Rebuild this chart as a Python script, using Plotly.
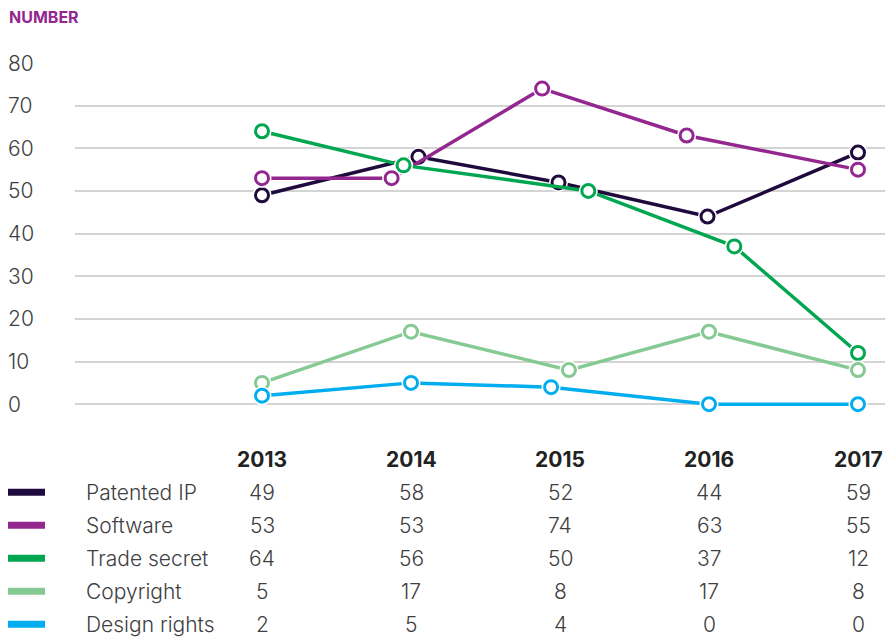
import plotly.graph_objects as go

years = [2013, 2014, 2015, 2016, 2017]
series_names = ["Patented IP", "Software", "Trade secret", "Copyright", "Design rights"]
patented_ip = [49, 58, 52, 44, 59]
software = [53, 53, 74, 63, 55]
trade_secret = [64, 56, 50, 37, 12]
copyright_ = [5, 17, 8, 17, 8]
design_rights = [2, 5, 4, 0, 0]
y_ticks = [0, 10, 20, 30, 40, 50, 60, 70, 80]

values = [patented_ip, software, trade_secret, copyright_, design_rights]
colors = ["#1f0a3d", "#93278f", "#00a650", "#86ca93", "#00aeef"]
# small horizontal dodge (in years) so overlapping markers stay visible
dodge = [
    [0, 0.05, -0.01, -0.01, 0],
    [0, -0.13, -0.12, -0.15, 0],
    [0, -0.05, 0.19, 0.17, 0],
    [0, 0, 0.06, 0, 0],
    [0, 0, -0.06, 0, 0],
]

W, H = 885, 637
Y0, Y1 = -3, 80
PXU = (404 - 63) / 80.0  # pixels per unit
ML, MR, MT = 75, 0, 63
PH = (Y1 - Y0) * PXU
MB = H - MT - PH
PW = W - ML - MR

def py(p):  # pixel y -> paper y
    return (H - MB - p) / PH

def px(p):  # pixel x -> paper x
    return (p - ML) / PW

FONT = "Inter"
TXT = "#404040"

fig = go.Figure()
for name, vals, col, dd in zip(series_names, values, colors, dodge):
    xs = [y + d for y, d in zip(years, dd)]
    fig.add_trace(go.Scatter(x=xs, y=vals, mode="lines", line=dict(color=col, width=3.5),
                             hoverinfo="skip", showlegend=False, cliponaxis=False))
    fig.add_trace(go.Scatter(x=xs, y=vals, mode="markers",
                             marker=dict(size=19, color="white", line=dict(width=0)),
                             hoverinfo="skip", showlegend=False, cliponaxis=False))
    fig.add_trace(go.Scatter(x=xs, y=vals, mode="markers", name=name,
                             marker=dict(size=13, color="white", line=dict(color=col, width=3)),
                             showlegend=False, cliponaxis=False))

fig.update_xaxes(range=[2013 - (262 - ML) / 149, 2013 + (W - 262) / 149],
                 showgrid=False, zeroline=False, showticklabels=False, fixedrange=True)
fig.update_yaxes(range=[Y0, Y1], tickvals=y_ticks, showticklabels=False,
                 gridcolor="#d4d4d4", gridwidth=2, zeroline=False, fixedrange=True)

ann = []
ann.append(dict(text="<b>NUMBER</b>", xref="paper", yref="paper", x=px(7), y=py(17),
                xanchor="left", yanchor="middle", showarrow=False,
                font=dict(family=FONT, size=16, color="#93278f", weight=800)))
for t in y_ticks:
    ann.append(dict(text=str(t), xref="paper", yref="y", x=px(6), y=t,
                    xanchor="left", yanchor="middle", showarrow=False,
                    font=dict(family=FONT, size=21, color=TXT, weight=300)))
for yr in years:
    ann.append(dict(text="<b>%d</b>" % yr, xref="x", yref="paper", x=yr, y=py(459),
                    xanchor="center", yanchor="middle", showarrow=False,
                    font=dict(family=FONT, size=21, color="#222222")))
shapes = []
row_y = [492, 525, 558, 591, 624]
for i, (name, vals, col) in enumerate(zip(series_names, values, colors)):
    ry = row_y[i]
    shapes.append(dict(type="line", xref="paper", yref="paper", x0=px(8), x1=px(45),
                       y0=py(ry), y1=py(ry), line=dict(color=col, width=7)))
    ann.append(dict(text=name, xref="paper", yref="paper", x=px(84), y=py(ry),
                    xanchor="left", yanchor="middle", showarrow=False,
                    font=dict(family=FONT, size=21, color=TXT, weight=300)))
    for yr, v in zip(years, vals):
        ann.append(dict(text=str(v), xref="x", yref="paper", x=yr, y=py(ry),
                        xanchor="center", yanchor="middle", showarrow=False,
                        font=dict(family=FONT, size=21, color=TXT, weight=300)))

fig.update_layout(width=W, height=H, margin=dict(l=ML, r=MR, t=MT, b=MB),
                  plot_bgcolor="white", paper_bgcolor="white",
                  annotations=ann, shapes=shapes, showlegend=False)
fig.write_html("out.html", config={"displayModeBar": False},
               post_script="document.body.style.margin='0';")
